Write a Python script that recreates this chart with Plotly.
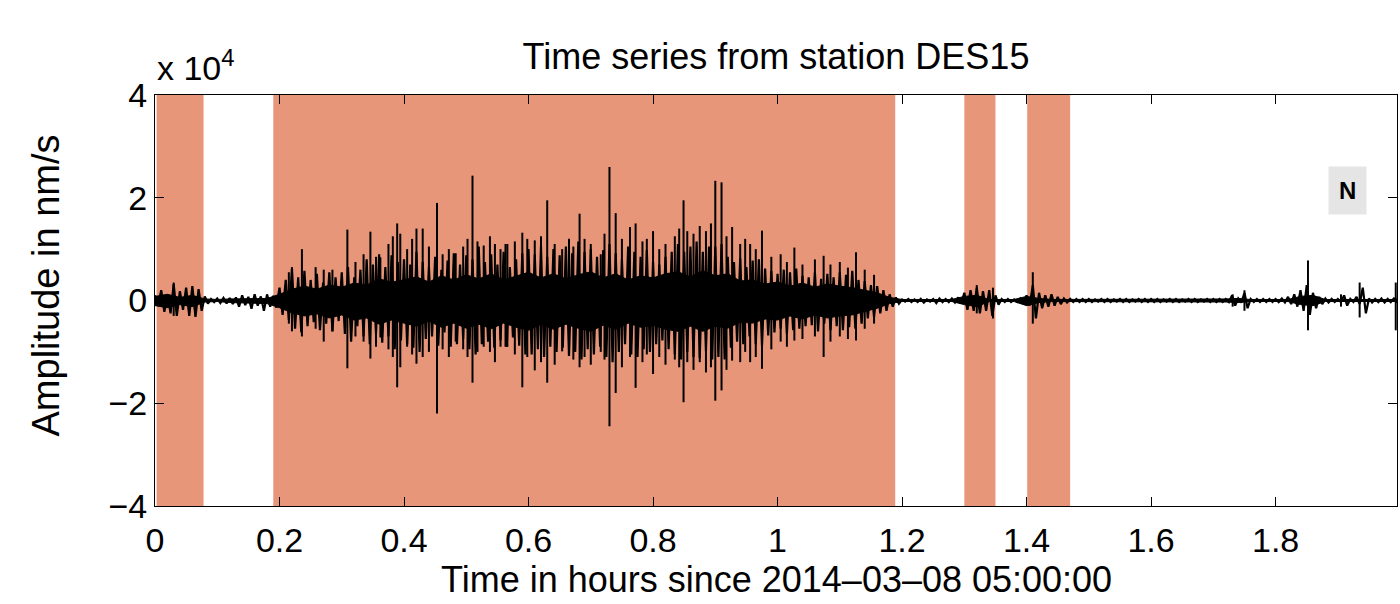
import numpy as np
import plotly.graph_objects as go

# ---- data (amplitudes in units of 1e4 nm/s) ----
env_t = np.round(np.arange(0, 2.001, 0.01), 2)  # sampling grid, hours

# outer envelope of the dense oscillation (max / min per 0.01 h)
env_upper = [
    0.10, 0.20, 0.12, 0.32, 0.18, 0.25, 0.28, 0.22, 0.08,
    0.03, 0.04, 0.05, 0.05, 0.06, 0.10, 0.07, 0.12, 0.08, 0.12, 0.09,
    0.25, 0.40, 0.62, 0.45, 0.58, 0.40, 0.52, 0.35, 0.55, 0.45,
    0.55, 0.65, 0.45, 0.60, 0.80, 0.70, 0.90, 0.65, 0.88, 0.75,
    0.80, 0.70, 0.95, 0.75, 0.65, 0.85, 0.60, 0.78, 0.92, 0.70,
    0.88, 0.80, 1.05, 0.75, 0.90, 0.70, 0.95, 0.65, 0.80, 0.92,
    1.00, 0.90, 1.05, 0.85, 1.00, 0.88, 1.05, 0.92, 1.15, 0.95,
    1.00, 0.85, 0.98, 1.10, 0.92, 0.80, 1.05, 0.95, 0.85, 0.98,
    0.75, 0.70, 0.85, 0.95, 1.10, 0.95, 1.05, 1.15, 0.95, 1.05,
    1.05, 1.10, 0.85, 0.75, 0.82, 0.65, 0.78, 0.80, 0.62, 0.58,
    0.52, 0.60, 0.55, 0.62, 0.48, 0.45, 0.55, 0.42, 0.52, 0.45,
    0.55, 0.50, 0.58, 0.40, 0.38, 0.30, 0.28, 0.20, 0.12, 0.06,
    0.02, 0.03, 0.02, 0.03, 0.02, 0.03, 0.04, 0.03, 0.04, 0.06,
    0.15, 0.20, 0.25, 0.18, 0.20, 0.10, 0.03, 0.03, 0.02, 0.04,
    0.10, 0.30, 0.15, 0.10, 0.12, 0.07, 0.04, 0.03, 0.03, 0.03,
    0.03, 0.02, 0.03, 0.03, 0.02, 0.03, 0.03, 0.02, 0.03, 0.03,
    0.03, 0.03, 0.02, 0.03, 0.03, 0.02, 0.03, 0.03, 0.02, 0.03,
    0.03, 0.03, 0.03, 0.10, 0.04, 0.15, 0.03, 0.03, 0.03, 0.03,
    0.03, 0.04, 0.07, 0.12, 0.20, 0.30, 0.15, 0.07, 0.04, 0.03,
    0.03, 0.10, 0.03, 0.07, 0.25, 0.04, 0.03, 0.04, 0.03, 0.04,
    0.30,
]
env_lower = [
    -0.10, -0.22, -0.25, -0.30, -0.18, -0.30, -0.32, -0.20, -0.06,
    -0.03, -0.05, -0.06, -0.07, -0.12, -0.09, -0.16, -0.10, -0.20, -0.12, -0.14,
    -0.28, -0.38, -0.55, -0.62, -0.50, -0.42, -0.58, -0.45, -0.60, -0.40,
    -0.65, -0.80, -0.50, -0.70, -0.85, -0.65, -0.82, -0.70, -0.95, -0.78,
    -0.85, -0.92, -1.00, -0.75, -0.70, -0.88, -0.62, -0.90, -0.85, -0.75,
    -0.95, -1.05, -0.85, -0.80, -0.92, -0.78, -0.90, -0.72, -0.88, -1.05,
    -1.05, -0.95, -1.10, -0.90, -1.00, -0.92, -1.08, -1.00, -1.15, -0.95,
    -1.05, -0.90, -1.10, -1.20, -1.00, -0.85, -1.05, -1.10, -0.95, -1.00,
    -0.85, -0.78, -0.95, -1.05, -1.15, -1.00, -1.10, -1.12, -0.98, -1.15,
    -1.10, -1.15, -0.92, -0.80, -0.85, -0.70, -0.85, -0.88, -0.68, -0.62,
    -0.55, -0.65, -0.58, -0.55, -0.50, -0.48, -0.60, -0.45, -0.58, -0.50,
    -0.58, -0.52, -0.55, -0.45, -0.35, -0.32, -0.25, -0.20, -0.12, -0.06,
    -0.02, -0.03, -0.03, -0.04, -0.02, -0.05, -0.03, -0.03, -0.04, -0.06,
    -0.18, -0.20, -0.25, -0.20, -0.30, -0.08, -0.03, -0.03, -0.03, -0.04,
    -0.10, -0.35, -0.15, -0.12, -0.10, -0.07, -0.04, -0.03, -0.03, -0.03,
    -0.03, -0.02, -0.03, -0.03, -0.02, -0.03, -0.03, -0.02, -0.03, -0.03,
    -0.03, -0.03, -0.02, -0.03, -0.03, -0.02, -0.03, -0.03, -0.02, -0.03,
    -0.03, -0.03, -0.03, -0.10, -0.04, -0.15, -0.03, -0.03, -0.03, -0.03,
    -0.03, -0.04, -0.07, -0.12, -0.20, -0.28, -0.15, -0.07, -0.04, -0.03,
    -0.03, -0.10, -0.03, -0.07, -0.25, -0.04, -0.03, -0.04, -0.03, -0.04,
    -0.55,
]

# solid inner core of the trace (per 0.02 h)
core_t = np.round(np.arange(0, 2.001, 0.02), 2)
core_upper = [
    0.08, 0.12, 0.06, 0.10, 0.03, 0.02, 0.03, 0.03, 0.04, 0.04,
    0.12, 0.22, 0.28, 0.22, 0.30, 0.26, 0.34, 0.30, 0.42, 0.36,
    0.40, 0.46, 0.36, 0.48, 0.40, 0.50, 0.42, 0.52, 0.40, 0.48,
    0.55, 0.44, 0.52, 0.42, 0.50, 0.56, 0.44, 0.52, 0.40, 0.48,
    0.44, 0.52, 0.56, 0.46, 0.58, 0.48, 0.52, 0.38, 0.40, 0.32,
    0.36, 0.28, 0.34, 0.26, 0.32, 0.28, 0.25, 0.20, 0.15, 0.06,
    0.02, 0.02, 0.02, 0.02, 0.02, 0.08, 0.10, 0.02, 0.02, 0.02,
    0.08, 0.04, 0.02, 0.02, 0.02, 0.02, 0.02, 0.02, 0.02, 0.02,
    0.02, 0.02, 0.02, 0.02, 0.02, 0.02, 0.03, 0.04, 0.02, 0.02,
    0.02, 0.02, 0.08, 0.10, 0.02, 0.02, 0.02, 0.03, 0.02, 0.02,
    0.02,
]
core_lower = [
    -0.10, -0.14, -0.08, -0.12, -0.03, -0.02, -0.04, -0.05, -0.06, -0.06,
    -0.14, -0.24, -0.30, -0.26, -0.34, -0.28, -0.38, -0.34, -0.46, -0.38,
    -0.44, -0.50, -0.40, -0.52, -0.44, -0.54, -0.46, -0.55, -0.44, -0.52,
    -0.58, -0.46, -0.56, -0.46, -0.54, -0.60, -0.48, -0.56, -0.44, -0.52,
    -0.48, -0.56, -0.60, -0.50, -0.60, -0.50, -0.54, -0.42, -0.44, -0.36,
    -0.38, -0.30, -0.36, -0.28, -0.34, -0.30, -0.28, -0.22, -0.15, -0.06,
    -0.02, -0.02, -0.02, -0.02, -0.02, -0.08, -0.12, -0.02, -0.02, -0.02,
    -0.10, -0.04, -0.02, -0.02, -0.02, -0.02, -0.02, -0.02, -0.02, -0.02,
    -0.02, -0.02, -0.02, -0.02, -0.02, -0.02, -0.03, -0.04, -0.02, -0.02,
    -0.02, -0.02, -0.08, -0.10, -0.02, -0.02, -0.02, -0.03, -0.02, -0.02,
    -0.02,
]

# individual spikes: time (h), max, min
spike_t = [0.030, 0.215, 0.220, 0.236, 0.258, 0.271, 0.285, 0.309, 0.322,
           0.335, 0.346, 0.355, 0.362, 0.375, 0.382, 0.389, 0.394, 0.405,
           0.413, 0.420, 0.430, 0.440, 0.453, 0.462, 0.472, 0.483, 0.495,
           0.502, 0.510, 0.518, 0.528, 0.538, 0.546, 0.555, 0.563, 0.566,
           0.578, 0.590, 0.598, 0.610, 0.620, 0.630, 0.642, 0.654, 0.665,
           0.672, 0.682, 0.690, 0.700, 0.716, 0.722, 0.730, 0.740, 0.750,
           0.763, 0.772, 0.783, 0.790, 0.800, 0.810, 0.820, 0.835, 0.842,
           0.849, 0.855, 0.865, 0.875, 0.885, 0.893, 0.900, 0.910, 0.918,
           0.927, 0.940, 0.948, 0.956, 0.965, 0.975, 0.990, 1.005, 1.015,
           1.027, 1.040, 1.060, 1.074, 1.085, 1.100, 1.113, 1.126, 1.140,
           1.155, 1.320, 1.346, 1.410, 1.731, 1.750, 1.852, 1.905, 1.935,
           1.993]
spike_max = [0.35, 0.55, 0.65, 1.00, 0.65, 0.60, 0.60, 1.38, 0.75,
             0.90, 1.34, 0.85, 0.84, 1.10, 1.25, 1.50, 1.30, 1.00,
             1.20, 1.40, 1.40, 1.05, 1.90, 0.90, 1.00, 0.92, 1.05,
             1.20, 2.43, 1.15, 1.07, 1.25, 1.10, 1.00, 1.10, 1.10,
             1.15, 1.32, 1.20, 1.17, 1.25, 1.95, 1.10, 1.00, 1.20,
             1.05, 1.69, 1.20, 1.10, 0.90, 1.30, 2.60, 1.70, 1.20,
             1.43, 1.50, 1.15, 1.20, 1.35, 1.00, 1.10, 1.25, 1.40,
             1.95, 1.35, 1.30, 1.45, 1.35, 1.50, 2.33, 2.30, 1.25,
             1.43, 1.10, 1.20, 1.10, 1.00, 1.36, 0.85, 0.90, 0.75,
             1.03, 0.70, 0.80, 0.87, 0.70, 0.75, 0.64, 0.94, 0.60,
             0.50, 0.30, 0.25, 0.55, 0.12, 0.20, 0.78, 0.12, 0.35,
             0.35]
spike_min = [-0.30, -0.45, -0.60, -0.70, -0.55, -0.80, -0.60, -1.32, -0.70,
             -0.80, -1.13, -0.90, -0.72, -0.95, -1.10, -1.69, -1.30, -0.90,
             -1.05, -1.23, -1.10, -1.00, -2.20, -0.95, -1.10, -0.80, -0.95,
             -1.10, -1.60, -1.00, -0.90, -1.00, -1.20, -0.90, -0.90, -0.90,
             -1.05, -1.69, -1.10, -1.36, -1.20, -1.60, -1.25, -0.99, -1.05,
             -1.15, -1.30, -1.10, -1.25, -1.00, -1.15, -2.45, -1.80, -1.30,
             -1.10, -1.70, -1.20, -1.05, -1.43, -1.10, -1.25, -1.15, -1.30,
             -1.98, -1.20, -1.35, -1.20, -1.40, -1.30, -1.95, -1.75, -1.35,
             -1.17, -1.20, -1.00, -1.20, -1.10, -1.33, -0.95, -0.80, -0.90,
             -0.78, -0.75, -0.70, -1.10, -0.80, -0.70, -0.75, -0.78, -0.55,
             -0.45, -0.25, -0.35, -0.45, -0.12, -0.20, -0.58, -0.12, -0.33,
             -0.58]

# shaded (selected) windows, hours
shade_start = [0.0025, 0.190, 1.300, 1.401]
shade_end = [0.078, 1.189, 1.350, 1.470]

x_ticks = [0, 0.2, 0.4, 0.6, 0.8, 1.0, 1.2, 1.4, 1.6, 1.8]
x_ticktext = ["0", "0.2", "0.4", "0.6", "0.8", "1", "1.2", "1.4", "1.6", "1.8"]
y_ticks = [-4, -2, 0, 2, 4]
y_ticktext = ["\u22124", "\u22122", "0", "2", "4"]

# ---- figure ----
FONT = "Liberation Sans, Arial, Helvetica, sans-serif"
SALMON = "rgb(232,150,122)"

fig = go.Figure()

# solid core
fig.add_trace(go.Scatter(x=core_t, y=core_lower, mode="lines",
                         line=dict(color="black", width=1), hoverinfo="skip",
                         showlegend=False))
fig.add_trace(go.Scatter(x=core_t, y=core_upper, mode="lines",
                         line=dict(color="black", width=1), fill="tonexty",
                         fillcolor="black", hoverinfo="skip", showlegend=False))

# oscillation drawn as max/min zig-zag
half = 0.005
zx, zy = [], []
for t, hi, lo in zip(env_t, env_upper, env_lower):
    zx += [t, t + half]
    zy += [hi, lo]
fig.add_trace(go.Scatter(x=zx, y=zy, mode="lines",
                         line=dict(color="black", width=2.2), hoverinfo="skip",
                         showlegend=False))

# spikes
sx, sy = [], []
for t, hi, lo in zip(spike_t, spike_max, spike_min):
    sx += [t, t, None]
    sy += [lo, hi, None]
fig.add_trace(go.Scatter(x=sx, y=sy, mode="lines",
                         line=dict(color="black", width=2), hoverinfo="skip",
                         showlegend=False))

for s, e in zip(shade_start, shade_end):
    fig.add_shape(type="rect", xref="x", yref="paper", x0=s, x1=e, y0=0, y1=1,
                  fillcolor=SALMON, line_width=0, layer="below")

L, R, T, B = 154.5, 2.5, 95, 98
fig.update_layout(
    width=1400, height=604,
    margin=dict(l=L, r=R, t=T, b=B, pad=0),
    paper_bgcolor="white", plot_bgcolor="white",
    font=dict(family=FONT, color="black", size=34),
    title=dict(text="Time series from station DES15", x=776 / 1400,
               xanchor="center", y=1 - 56 / 604, yanchor="middle",
               font=dict(size=36, family=FONT, color="black")),
    showlegend=False,
)
fig.update_xaxes(range=[0, 1.995], tickvals=x_ticks, ticktext=x_ticktext,
                 ticks="inside", ticklen=9, tickwidth=1, tickcolor="black",
                 showline=True, linecolor="black", linewidth=1, mirror="ticks",
                 showgrid=False, zeroline=False, ticklabelstandoff=4,
                 tickfont=dict(size=34, family=FONT, color="black"))
fig.update_yaxes(range=[-4, 4], tickvals=y_ticks, ticktext=y_ticktext,
                 ticks="inside", ticklen=9, tickwidth=1, tickcolor="black",
                 showline=True, linecolor="black", linewidth=1, mirror="ticks",
                 showgrid=False, zeroline=False,
                 tickfont=dict(size=34, family=FONT, color="black"))

fig.add_annotation(text="Time in hours since 2014\u201303\u201308 05:00:00",
                   xref="paper", yref="paper", x=0.5, y=0, xanchor="center",
                   yanchor="middle", yshift=-73, showarrow=False,
                   font=dict(size=36, family=FONT, color="black"))
fig.add_annotation(text="Amplitude in nm/s", textangle=-90,
                   xref="paper", yref="paper", x=0, y=0.5, xanchor="center",
                   yanchor="middle", xshift=-110, yshift=15, showarrow=False,
                   font=dict(size=38, family=FONT, color="black"))
fig.add_annotation(text="x 10<sup>4</sup>", xref="paper", yref="paper",
                   x=0, y=1, xanchor="left", yanchor="bottom", yshift=6,
                   showarrow=False, font=dict(size=34, family=FONT, color="black"))
fig.add_annotation(text="<b>N</b>", xref="paper", yref="paper",
                   x=(1348 - L) / (1400 - L - R), y=1 - (190 - T) / (604 - T - B),
                   xanchor="center", yanchor="middle", showarrow=False,
                   bgcolor="rgb(229,229,229)", borderpad=10,
                   font=dict(size=24, family=FONT, color="black"))

fig.write_html("out.html")
